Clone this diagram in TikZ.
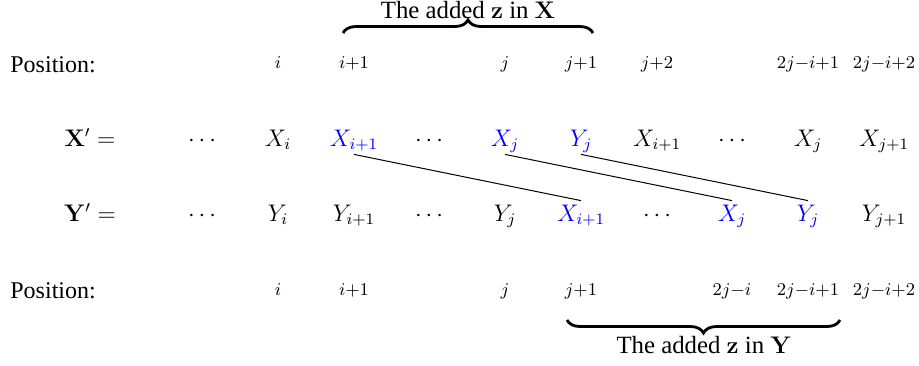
\documentclass[tikz,border=0pt]{standalone}
\usepackage[no-math]{fontspec}
\setmainfont{Liberation Serif}
\usetikzlibrary{decorations.pathreplacing}
\begin{document}
\begin{tikzpicture}[x=0.5pt,y=-0.5pt,
  lbl/.style={font=\fontsize{12}{14}\selectfont, anchor=base west, inner sep=0pt},
  elem/.style={font=\fontsize{12}{14}\selectfont, anchor=base, text height=8.5pt, text depth=2.5pt, inner sep=1.5pt},
  hl/.style={elem, text=blue},
  posl/.style={font=\fontsize{9}{10}\selectfont, anchor=base, inner sep=0pt},
  eqn/.style={font=\fontsize{12}{14}\selectfont, anchor=base, inner sep=0pt},
  captxt/.style={font=\fontsize{12.4}{14}\selectfont, anchor=base, inner sep=0pt},
  link/.style={line width=0.5pt},
  brc/.style={decorate, decoration={brace, amplitude=6.5pt}, line width=1.4pt}
]
\useasboundingbox (0,0) rectangle (919,365);

% top positions
\node[lbl] (ptop) at (10,72) {Position:};
\node[posl] (t2) at (278,68) {$i$};
\node[posl] (t3) at (354,68) {$i{+}1$};
\node[posl] (t5) at (505,68) {$j$};
\node[posl] (t6) at (581,68) {$j{+}1$};
\node[posl] (t7) at (657,68) {$j{+}2$};
\node[posl] (t9) at (808,68) {$2j{-}i{+}1$};
\node[posl] (t10) at (884,68) {$2j{-}i{+}2$};

% X' row
\node[eqn] (xl) at (90,146) {$\mathbf{X}' =$};
\node[elem] (x1) at (202,146) {$\cdots$};
\node[elem] (x2) at (278,146) {$X_i$};
\node[hl] (x3) at (354,146) {$X_{i+1}$};
\node[elem] (x4) at (429,146) {$\cdots$};
\node[hl] (x5) at (505,146) {$X_j$};
\node[hl] (x6) at (581,146) {$Y_j$};
\node[elem] (x7) at (657,146) {$X_{i+1}$};
\node[elem] (x8) at (732,146) {$\cdots$};
\node[elem] (x9) at (808,146) {$X_j$};
\node[elem] (x10) at (884,146) {$X_{j+1}$};

% Y' row
\node[eqn] (yl) at (90,221) {$\mathbf{Y}' =$};
\node[elem] (y1) at (202,221) {$\cdots$};
\node[elem] (y2) at (278,221) {$Y_i$};
\node[elem] (y3) at (354,221) {$Y_{i+1}$};
\node[elem] (y4) at (429,221) {$\cdots$};
\node[elem] (y5) at (505,221) {$Y_j$};
\node[hl] (y6) at (581,221) {$X_{i+1}$};
\node[elem] (y7) at (657,221) {$\cdots$};
\node[hl] (y8) at (732,221) {$X_j$};
\node[hl] (y9) at (808,221) {$Y_j$};
\node[elem] (y10) at (884,221) {$Y_{j+1}$};

% bottom positions
\node[lbl] (pbot) at (10,298) {Position:};
\node[posl] (b2) at (278,295) {$i$};
\node[posl] (b3) at (354,295) {$i{+}1$};
\node[posl] (b5) at (505,295) {$j$};
\node[posl] (b6) at (581,295) {$j{+}1$};
\node[posl] (b8) at (732,295) {$2j{-}i$};
\node[posl] (b9) at (808,295) {$2j{-}i{+}1$};
\node[posl] (b10) at (884,295) {$2j{-}i{+}2$};

% links
\draw[link] (x3.south) -- (y6.north);
\draw[link] (x5.south) -- (y8.north);
\draw[link] (x6.south) -- (y9.north);

% top brace
\coordinate (tbl) at (343,33);
\coordinate (tbr) at (593,33);
\draw[brc] (tbl) -- (tbr);
\node[captxt] (tcap) at (468,18) {The added $\mathbf{z}$ in $\mathbf{X}$};

% bottom brace
\coordinate (bbl) at (567,320);
\coordinate (bbr) at (840,320);
\draw[brc] (bbr) -- (bbl);
\node[captxt] (bcap) at (704,353) {The added $\mathbf{z}$ in $\mathbf{Y}$};
\end{tikzpicture}
\end{document}
